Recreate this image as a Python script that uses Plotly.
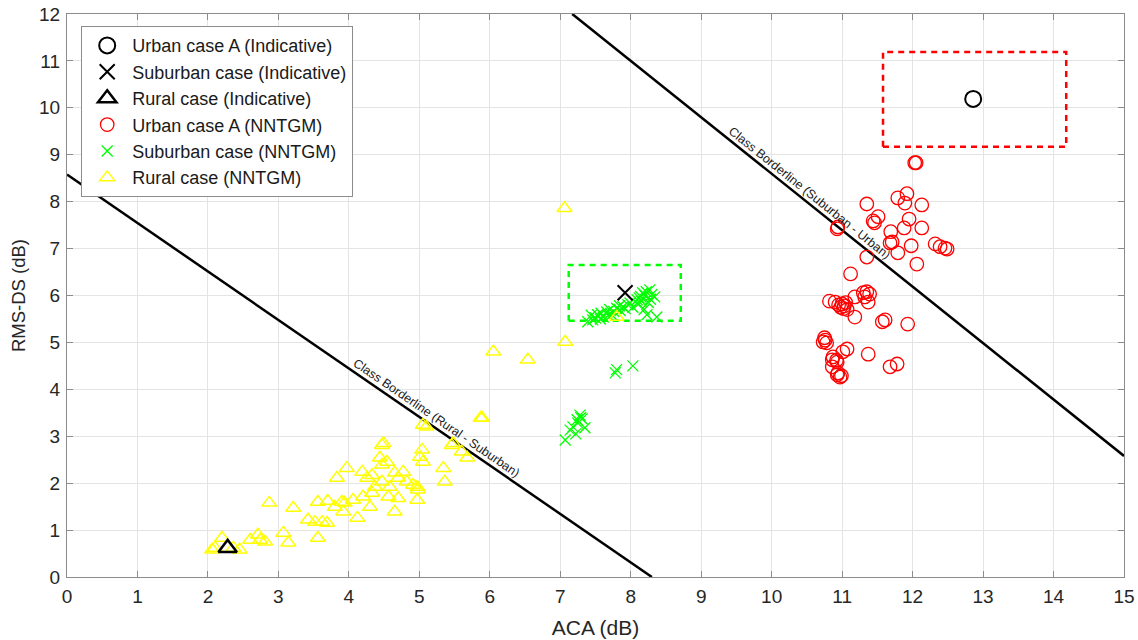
import math
import plotly.graph_objects as go

# ---------------- data ----------------
urban_ind_x = [12.86]
urban_ind_y = [10.19]
suburban_ind_x = [7.92]
suburban_ind_y = [6.06]
rural_ind_x = [2.28]
rural_ind_y = [0.62]

urban_x = [12.03, 12.05, 11.79, 11.92, 11.89, 11.35, 12.13, 11.51, 11.44, 11.46, 11.95, 10.94, 10.93,
           11.88, 12.13, 11.69, 11.71, 11.68, 12.32, 12.39, 12.46, 12.49, 11.98, 11.79, 11.35, 12.06,
           11.12, 10.90, 11.00, 11.03, 10.98, 11.05, 11.07, 10.95, 11.18, 11.30, 11.35, 11.39, 11.32,
           11.37, 11.18, 11.57, 11.61, 11.93, 10.76, 10.73, 10.78, 10.75, 11.07, 11.01, 10.87, 10.86,
           10.93, 11.37, 11.68, 11.78, 10.94, 10.97, 10.93, 10.99, 10.86, 10.82, 11.02, 10.92]
urban_y = [8.83, 8.83, 8.08, 8.17, 7.97, 7.95, 7.93, 7.68, 7.59, 7.55, 7.63, 7.46, 7.42,
           7.44, 7.44, 7.36, 7.14, 7.12, 7.10, 7.04, 7.01, 6.99, 7.06, 6.91, 6.82, 6.67,
           6.46, 5.86, 5.82, 5.78, 5.75, 5.85, 5.70, 5.80, 5.97, 6.06, 6.08, 6.03, 5.97,
           5.86, 5.54, 5.44, 5.48, 5.39, 5.05, 5.01, 4.99, 5.10, 4.86, 4.80, 4.69, 4.63,
           4.58, 4.75, 4.48, 4.54, 4.35, 4.26, 4.31, 4.29, 4.48, 5.88, 5.72, 4.62]

suburban_x = [7.39, 7.46, 7.53, 7.61, 7.66, 7.73, 7.80, 7.89, 7.99, 8.09, 8.17, 8.27, 8.34, 8.23, 8.37,
              7.58, 7.70, 7.76, 7.84, 7.92, 7.96, 8.03, 8.12, 8.15, 8.20, 8.25, 8.30, 8.19, 8.10, 7.85,
              7.68, 7.57, 8.28, 8.22, 8.14, 7.50, 7.44,
              7.78, 7.80, 8.03,
              7.07, 7.14, 7.24, 7.28, 7.35, 7.18, 7.25, 7.31, 7.22, 7.29]
suburban_y = [5.44, 5.48, 5.59, 5.54, 5.65, 5.59, 5.73, 5.76, 5.84, 5.91, 6.06, 6.12, 5.97, 5.59, 5.54,
              5.62, 5.70, 5.66, 5.78, 5.72, 5.80, 5.75, 5.95, 5.88, 6.00, 5.85, 6.02, 5.70, 5.82, 5.68,
              5.58, 5.50, 5.92, 6.08, 5.98, 5.52, 5.58,
              4.35, 4.42, 4.50,
              2.92, 3.13, 3.35, 3.45, 3.18, 3.20, 3.28, 3.37, 3.05, 3.40]

rural_x = [2.20, 2.10, 2.36, 2.45, 2.06, 2.60, 2.71, 2.81, 2.74, 3.07, 3.14, 2.87, 3.21, 3.56,
           3.42, 3.52, 3.62, 3.69, 3.56, 3.70, 3.80, 3.90, 3.94, 3.92, 4.06, 4.12, 4.20, 4.30,
           3.83, 3.97, 4.19, 4.26, 4.33, 4.47, 4.49, 4.44, 4.54, 4.47, 4.37, 4.47, 4.33,
           4.58, 4.65, 4.70, 4.77, 4.82, 4.56, 4.70, 4.65, 4.97, 4.98, 4.91, 4.97,
           5.04, 5.01, 5.05, 5.05, 5.10, 5.34, 5.36, 5.46, 5.48, 5.60, 5.68, 5.89,
           6.05, 6.54, 7.07, 7.80, 7.06, 5.87]
rural_y = [0.83, 0.62, 0.62, 0.58, 0.58, 0.79, 0.90, 0.75, 0.79, 0.94, 0.73, 1.58, 1.47, 0.83,
           1.22, 1.17, 1.17, 1.15, 1.60, 1.62, 1.49, 1.60, 1.58, 1.39, 1.64, 1.26, 1.71, 1.49,
           2.11, 2.32, 2.24, 2.11, 2.17, 2.81, 2.85, 2.54, 2.45, 2.39, 1.92, 2.03, 1.79,
           1.92, 2.22, 2.11, 2.24, 2.03, 1.71, 1.68, 1.39, 1.92, 1.86, 1.96, 1.64,
           2.71, 2.56, 2.45, 3.24, 3.20, 2.32, 2.03, 2.81, 2.85, 2.67, 2.54, 3.39,
           4.80, 4.63, 5.01, 5.54, 7.86, 3.39]

border_rs_x = [0.0, 8.30]
border_rs_y = [8.58, 0.0]
border_su_x = [7.17, 15.0]
border_su_y = [12.0, 2.58]

urban_box_x = [11.58, 14.18]
urban_box_y = [9.17, 11.19]
suburban_box_x = [7.12, 8.71]
suburban_box_y = [5.46, 6.65]

x_range = [0, 15]
y_range = [0, 12]
x_ticks = list(range(0, 16))
y_ticks = list(range(0, 13))

# ---------------- layout geometry ----------------
W, H = 1138, 640
ML, MR, MT, MB = 67, 14, 14, 63
pw, ph = W - ML - MR, H - MT - MB
sx = pw / (x_range[1] - x_range[0])
sy = ph / (y_range[1] - y_range[0])

FONT = "Liberation Sans, Arial, Helvetica, sans-serif"
TXT = "#262626"
AXC = "#8c8c8c"

fig = go.Figure()


def rect(xs, ys):
    return [xs[0], xs[1], xs[1], xs[0], xs[0]], [ys[0], ys[0], ys[1], ys[1], ys[0]]


bx, by = rect(urban_box_x, urban_box_y)
fig.add_trace(go.Scatter(x=bx, y=by, mode="lines", line=dict(color="#ff0000", width=2.5, dash="6px,5px"),
                         showlegend=False, hoverinfo="skip"))
bx, by = rect(suburban_box_x, suburban_box_y)
fig.add_trace(go.Scatter(x=bx, y=by, mode="lines", line=dict(color="#00ff00", width=2.5, dash="6px,5px"),
                         showlegend=False, hoverinfo="skip"))

fig.add_trace(go.Scatter(x=border_rs_x, y=border_rs_y, mode="lines", line=dict(color="black", width=2.5),
                         showlegend=False, hoverinfo="skip"))
fig.add_trace(go.Scatter(x=border_su_x, y=border_su_y, mode="lines", line=dict(color="black", width=2.5),
                         showlegend=False, hoverinfo="skip"))

fig.add_trace(go.Scatter(x=urban_x, y=urban_y, mode="markers", name="Urban case A (NNTGM)",
                         marker=dict(symbol="circle-open", size=13.5, color="#ff0000", line=dict(width=1.3)),
                         legendrank=4))
fig.add_trace(go.Scatter(x=suburban_x, y=suburban_y, mode="markers", name="Suburban case (NNTGM)",
                         marker=dict(symbol="x-thin-open", size=11, color="#00ff00", line=dict(width=1.3)),
                         legendrank=5))
fig.add_trace(go.Scatter(x=rural_x, y=rural_y, mode="markers", name="Rural case (NNTGM)",
                         marker=dict(symbol="triangle-up-open", size=13, color="#ffff00", line=dict(width=1.5)),
                         legendrank=6))

fig.add_trace(go.Scatter(x=urban_ind_x, y=urban_ind_y, mode="markers", name="Urban case A (Indicative)",
                         marker=dict(symbol="circle-open", size=16, color="black", line=dict(width=2)),
                         legendrank=1))
fig.add_trace(go.Scatter(x=suburban_ind_x, y=suburban_ind_y, mode="markers", name="Suburban case (Indicative)",
                         marker=dict(symbol="x-thin-open", size=15, color="black", line=dict(width=2)),
                         legendrank=2))
fig.add_trace(go.Scatter(x=rural_ind_x, y=rural_ind_y, mode="markers", name="Rural case (Indicative)",
                         marker=dict(symbol="triangle-up-open", size=16, color="black", line=dict(width=2.5)),
                         legendrank=3))


def line_angle(xs, ys):
    dxp = (xs[1] - xs[0]) * sx
    dyp = (ys[1] - ys[0]) * sy
    return math.degrees(math.atan2(-dyp, dxp))


def on_line(xs, ys, x):
    t = (x - xs[0]) / (xs[1] - xs[0])
    return ys[0] + t * (ys[1] - ys[0])


for xs, ys, xpos, label in [
    (border_rs_x, border_rs_y, 5.17, "Class Borderline (Rural - Suburban)"),
    (border_su_x, border_su_y, 10.46, "Class Borderline (Suburban - Urban)"),
]:
    ang = line_angle(xs, ys)
    a = math.radians(ang)
    off = 8.5
    fig.add_annotation(x=xpos, y=on_line(xs, ys, xpos), text=label, showarrow=False,
                       textangle=ang, xshift=off * math.sin(a), yshift=off * math.cos(a),
                       font=dict(family=FONT, size=12.5, color="#1a1a1a"))

axis_common = dict(showgrid=True, gridcolor="#e4e4e4", gridwidth=1, zeroline=False,
                   showline=True, linecolor=AXC, linewidth=1.2, mirror="ticks",
                   ticks="inside", ticklen=6, tickcolor=AXC, automargin=False,
                   tickfont=dict(family=FONT, size=19, color=TXT))

fig.update_xaxes(range=x_range, tickvals=x_ticks, ticklabelstandoff=2,
                 title=dict(text="ACA (dB)", standoff=14, font=dict(family=FONT, size=21, color=TXT)),
                 **axis_common)
fig.update_yaxes(range=y_range, tickvals=y_ticks, ticklabelstandoff=2,
                 title=dict(text="RMS-DS (dB)", standoff=8, font=dict(family=FONT, size=18.5, color=TXT)),
                 **axis_common)

fig.update_layout(
    width=W, height=H,
    margin=dict(l=ML, r=MR, t=MT, b=MB),
    plot_bgcolor="white", paper_bgcolor="white",
    legend=dict(x=(81 - ML) / pw, y=1 - (26 - MT) / ph, xanchor="left", yanchor="top",
                bgcolor="white", bordercolor=AXC, borderwidth=1.2,
                font=dict(family=FONT, size=18, color="#1a1a1a"),
                tracegroupgap=0, itemwidth=40),
    showlegend=True,
)

fig.write_html("out.html", config={"displayModeBar": False},
               post_script="document.body.style.margin='0';document.body.style.overflow='hidden';")
